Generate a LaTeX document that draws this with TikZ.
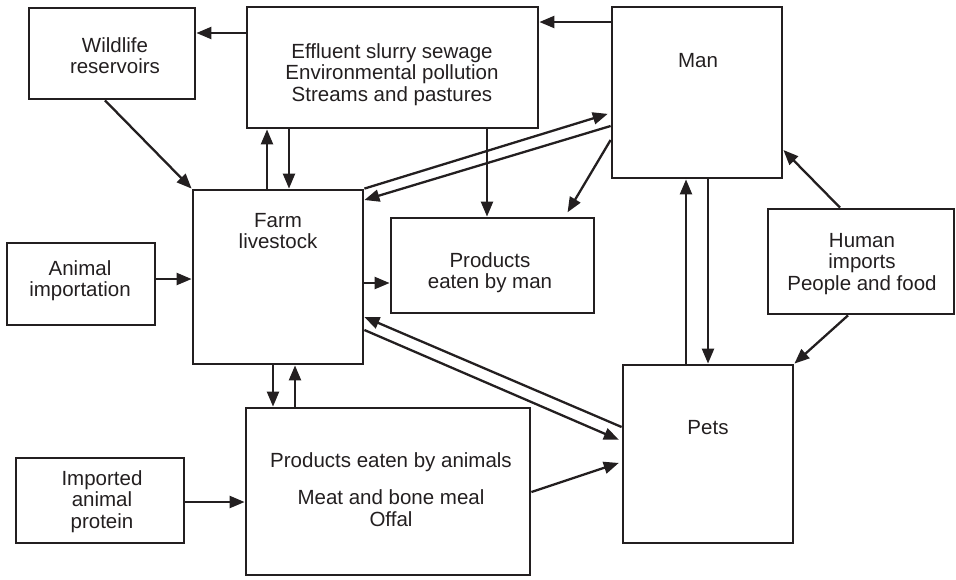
\documentclass[tikz,border=0pt]{standalone}
\usepackage{fontspec}
\setmainfont{Liberation Sans}
\usetikzlibrary{arrows.meta}
\definecolor{ink}{HTML}{231F20}
\begin{document}
\begin{tikzpicture}[x=1pt,y=-1pt,
  box/.style={draw=ink, line width=2.8pt, inner sep=0pt, rectangle},
  lbl/.style={anchor=north, inner sep=0pt, align=center, font=\fontsize{20.5}{21.5}\selectfont, text=ink},
  arr/.style={line width=2.3pt, draw=ink, -{Triangle[length=15pt,width=12pt]}}]
\useasboundingbox (0,0) rectangle (956,579);
% boxes
\node[box, minimum width=166pt, minimum height=91pt] (wild) at (112,53.5) {};
\node[box, minimum width=291pt, minimum height=121pt] (eff) at (392.5,67.5) {};
\node[box, minimum width=170pt, minimum height=171pt] (man) at (697,92.5) {};
\node[box, minimum width=170pt, minimum height=174pt] (farm) at (278,277) {};
\node[box, minimum width=203pt, minimum height=95pt] (pman) at (492.5,265.5) {};
\node[box, minimum width=148pt, minimum height=82pt] (anim) at (81,284) {};
\node[box, minimum width=186pt, minimum height=105pt] (hum) at (861,261.5) {};
\node[box, minimum width=170pt, minimum height=178pt] (pets) at (708,454) {};
\node[box, minimum width=284pt, minimum height=167pt] (panim) at (388,491.5) {};
\node[box, minimum width=168pt, minimum height=85pt] (impp) at (100,500.5) {};
% texts
\node[lbl] (wildt) at (115,37) {Wildlife\\reservoirs};
\node[lbl] (efft) at (392,43) {Effluent slurry sewage\\Environmental pollution\\Streams and pastures};
\node[lbl] (mant) at (698,53) {Man};
\node[lbl] (farmt) at (278,213) {Farm\\livestock};
\node[lbl] (pmant) at (490,252) {Products\\eaten by man};
\node[lbl] (animt) at (80,260) {Animal\\importation};
\node[lbl] (humt) at (862,233) {Human\\imports\\People and food};
\node[lbl] (petst) at (708,420) {Pets};
\node[lbl] (panimt) at (391,452) {Products eaten by animals\\[16pt]Meat and bone meal\\Offal};
\node[lbl] (imppt) at (102,470) {Imported\\animal\\protein};
% connectors
\draw[arr] (eff.west |- 0,33) -- (wild.east |- 0,33);
\draw[arr] (man.west |- 0,22) -- (eff.east |- 0,22);
\draw[arr] (wild.south -| 105,0) -- (farm.north west);
\draw[arr] (farm.north -| 267,0) -- (eff.south -| 267,0);
\draw[arr] (eff.south -| 289,0) -- (farm.north -| 289,0);
\draw[arr] (eff.south -| 487,0) -- (pman.north -| 487,0);
\draw[arr, shorten >=3pt] (farm.north east) -- (man.west |- 0,113);
\draw[arr] (man.west |- 0,126) -- (farm.east |- 0,200);
\draw[arr, shorten >=5pt] (man.west |- 0,140) -- (pman.north -| 565,0);
\draw[arr] (farm.east |- 0,283) -- (pman.west |- 0,283);
\draw[arr] (anim.east |- 0,279) -- (farm.west |- 0,279);
\draw[arr] (pets.west |- 0,427) -- (farm.east |- 0,317);
\draw[arr, shorten >=3pt] (farm.east |- 0,330) -- (pets.west |- 0,441);
\draw[arr] (farm.south -| 273,0) -- (panim.north -| 273,0);
\draw[arr] (panim.north -| 295,0) -- (farm.south -| 295,0);
\draw[arr] (impp.east |- 0,502) -- (panim.west |- 0,502);
\draw[arr, shorten >=3pt] (panim.east |- 0,492) -- (pets.west |- 0,462);
\draw[arr] (pets.north -| 686,0) -- (man.south -| 686,0);
\draw[arr] (man.south -| 708,0) -- (pets.north -| 708,0);
\draw[arr] (hum.north -| 840,0) -- (man.east |- 0,150);
\draw[arr] (hum.south -| 848,0) -- (pets.north east);
\end{tikzpicture}
\end{document}
